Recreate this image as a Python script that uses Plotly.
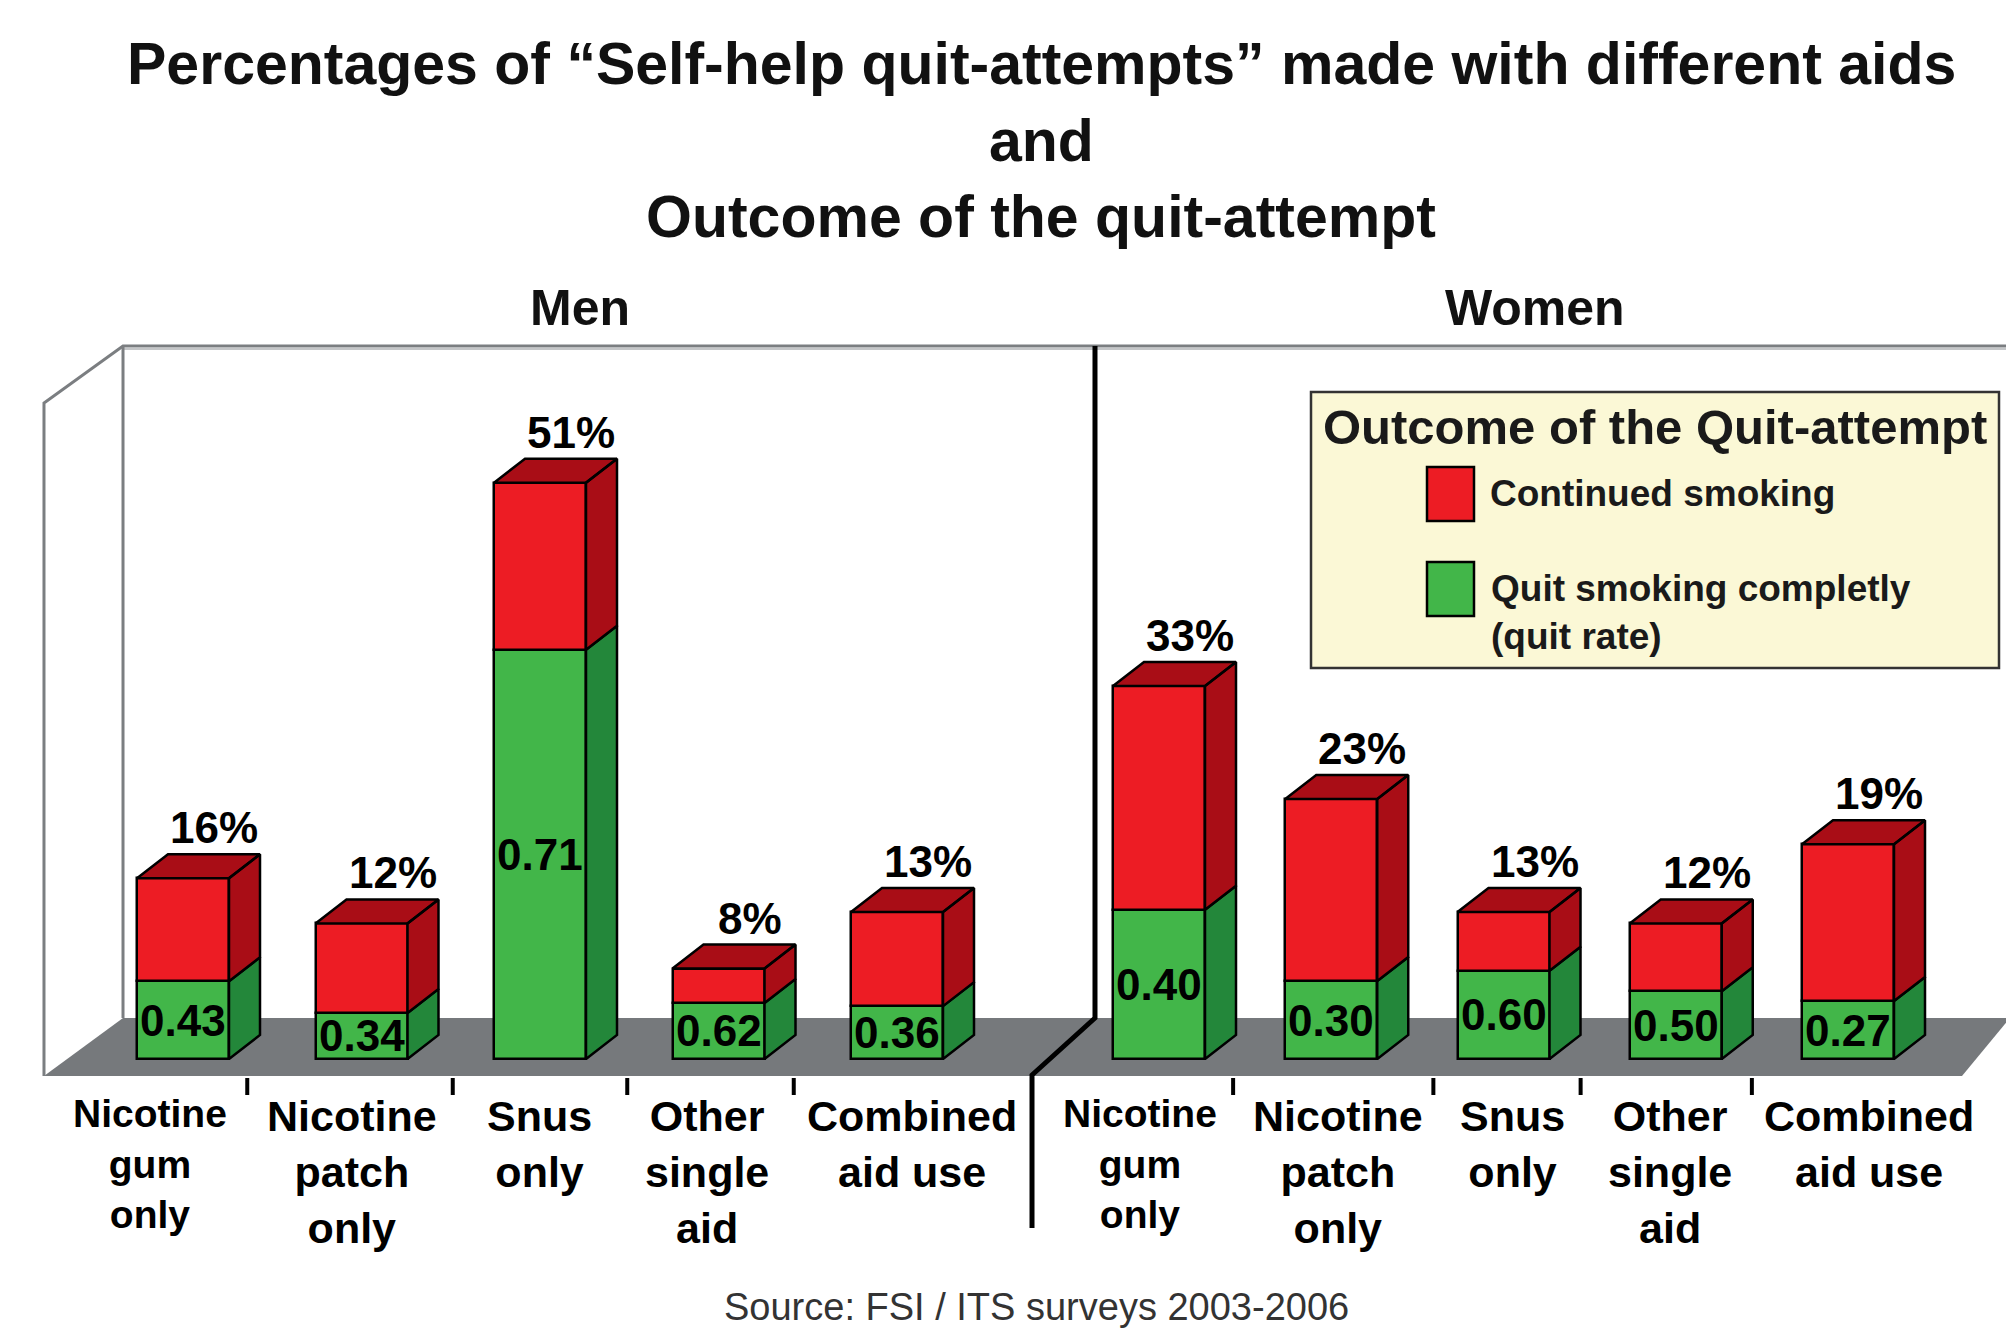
import plotly.graph_objects as go

# ---------------- data ----------------
categories = ["Nicotine<br>gum<br>only", "Nicotine<br>patch<br>only", "Snus<br>only",
              "Other<br>single<br>aid", "Combined<br>aid use"]
men_total = [16, 12, 51, 8, 13]            # % of self-help quit attempts
men_quit_rate = [0.43, 0.34, 0.71, 0.62, 0.36]
women_total = [33, 23, 13, 12, 19]
women_quit_rate = [0.40, 0.30, 0.60, 0.50, 0.27]
panel_titles = ["Men", "Women"]
legend_title = "Outcome of the Quit-attempt"
legend_items = ["Continued smoking", "Quit smoking completly<br>(quit rate)"]

# ---------------- styling / geometry ----------------
W, H = 2006, 1330
BASE_PY = 1059          # pixel row of the 0 % baseline
PX_PER_PCT = 11.3
MEN_C0, MEN_STEP = 183, 178.5
WOM_C0, WOM_STEP = 1159, 172.25
DIV_PX = 1095
BAR_W_PX = 92
DEPTH_DX, DEPTH_DY = 31, 24
MEN_LABEL_SHIFT = [-33, -10, -1, -12, 15]     # pixel nudges of category labels
WOM_LABEL_SHIFT = [-19, 7, 9, -6, 21]
MEN_TICK_SHIFT = [-25, 2, -2, -14]            # pixel nudges of divider ticks
WOM_TICK_SHIFT = [-12, 16, -9, -10]

RED, RED_D = "#ED1C24", "#A90D16"
GREEN, GREEN_D = "#42B649", "#23873A"
FLOOR = "#76797C"
WALL = "#7B7E81"
FONT = "Liberation Sans, Arial, sans-serif"
OUT = 2.5


def px(x):
    return x / W


def py(y):
    return 1 - y / H


fig = go.Figure()
annotations = []
shapes = []


def add_panel(xref, axis_suffix, totals, rates, step, label_shift, tick_shift):
    w = BAR_W_PX / step
    dx = DEPTH_DX / step
    dy = DEPTH_DY / PX_PER_PCT
    xs = list(range(len(totals)))
    green = [t * r for t, r in zip(totals, rates)]
    red = [t - g for t, g in zip(totals, green)]
    fig.add_trace(go.Bar(x=xs, y=green, width=w, base=[0] * len(xs),
                         marker=dict(color=GREEN, line=dict(color="black", width=OUT)),
                         xaxis=xref, yaxis="y", showlegend=False, hoverinfo="skip"))
    fig.add_trace(go.Bar(x=xs, y=red, width=w, base=green,
                         marker=dict(color=RED, line=dict(color="black", width=OUT)),
                         xaxis=xref, yaxis="y", showlegend=False, hoverinfo="skip"))
    gx, gy, rx, ry = [], [], [], []
    for x, g, t in zip(xs, green, totals):
        r = x + w / 2
        l = x - w / 2
        gx += [r, r + dx, r + dx, r, r, None]
        gy += [0, dy, g + dy, g, 0, None]
        rx += [r, r + dx, r + dx, r, r, None]
        ry += [g, g + dy, t + dy, t, g, None]
        rx += [l, r, r + dx, l + dx, l, None]
        ry += [t, t, t + dy, t + dy, t, None]
    fig.add_trace(go.Scatter(x=gx, y=gy, mode="lines", fill="toself", fillcolor=GREEN_D,
                             line=dict(color="black", width=OUT), xaxis=xref, yaxis="y",
                             showlegend=False, hoverinfo="skip"))
    fig.add_trace(go.Scatter(x=rx, y=ry, mode="lines", fill="toself", fillcolor=RED_D,
                             line=dict(color="black", width=OUT), xaxis=xref, yaxis="y",
                             showlegend=False, hoverinfo="skip"))
    for x, g, t, rate in zip(xs, green, totals, rates):
        annotations.append(dict(x=x, y=g / 2, xref="x" + axis_suffix, yref="y",
                                text=f"<b>{rate:.2f}</b>", showarrow=False,
                                xanchor="center", yanchor="middle",
                                font=dict(family=FONT, size=44, color="black")))
        annotations.append(dict(x=x + dx, y=t + dy, xref="x" + axis_suffix, yref="y",
                                text=f"<b>{t}%</b>", showarrow=False,
                                xanchor="center", yanchor="bottom", yshift=0,
                                font=dict(family=FONT, size=44, color="black")))
    for i, c in enumerate(categories):
        annotations.append(dict(x=i, y=py(1090), xref="x" + axis_suffix, yref="paper",
                                text=f"<b>{c}</b>", showarrow=False,
                                xanchor="center", yanchor="top", xshift=label_shift[i],
                                font=dict(family=FONT, size=39 if i == 0 else 43, color="black")))
    for i in range(len(categories) - 1):
        xt = i + 0.5 + tick_shift[i] / step
        shapes.append(dict(type="line", xref="x" + axis_suffix, yref="paper",
                           x0=xt, x1=xt, y0=py(1078), y1=py(1095),
                           line=dict(color="black", width=4)))


def path(pts, close=False):
    s = "M " + " L ".join(f"{px(a):.5f},{py(b):.5f}" for a, b in pts)
    return s + (" Z" if close else "")


# frame: floor, walls, divider
shapes.append(dict(type="path", xref="paper", yref="paper", layer="below",
                   path=path([(44, 1076), (123, 1018), (2010, 1018), (1962, 1076)], True),
                   fillcolor=FLOOR, line=dict(width=0)))
shapes.append(dict(type="path", xref="paper", yref="paper", layer="below",
                   path=path([(123, 349), (2010, 349)]),
                   line=dict(color="#C4C6C8", width=2)))
shapes.append(dict(type="path", xref="paper", yref="paper", layer="below",
                   path=path([(44, 1076), (44, 403), (123, 346), (2010, 346)]),
                   line=dict(color=WALL, width=3)))
shapes.append(dict(type="path", xref="paper", yref="paper", layer="below",
                   path=path([(123, 346), (123, 1018)]),
                   line=dict(color=WALL, width=3)))
shapes.append(dict(type="path", xref="paper", yref="paper", layer="above",
                   path=path([(DIV_PX, 346), (DIV_PX, 1018), (1032, 1075), (1032, 1228)]),
                   line=dict(color="black", width=5)))

add_panel("x", "", men_total, men_quit_rate, MEN_STEP, MEN_LABEL_SHIFT, MEN_TICK_SHIFT)
add_panel("x2", "2", women_total, women_quit_rate, WOM_STEP, WOM_LABEL_SHIFT, WOM_TICK_SHIFT)

# legend box
shapes.append(dict(type="rect", xref="paper", yref="paper", x0=px(1311), x1=px(1999),
                   y0=py(668), y1=py(392), fillcolor="#FBF8D6", line=dict(color="#333333", width=2.5)))
shapes.append(dict(type="rect", xref="paper", yref="paper", x0=px(1427), x1=px(1474),
                   y0=py(521), y1=py(467), fillcolor=RED, line=dict(color="black", width=2.5)))
shapes.append(dict(type="rect", xref="paper", yref="paper", x0=px(1427), x1=px(1474),
                   y0=py(616), y1=py(562), fillcolor=GREEN, line=dict(color="black", width=2.5)))
annotations.append(dict(x=px(1655), y=py(427), xref="paper", yref="paper", showarrow=False,
                        xanchor="center", yanchor="middle", text=f"<b>{legend_title}</b>",
                        font=dict(family=FONT, size=49, color="#1a1a1a")))
annotations.append(dict(x=px(1488), y=py(493), xref="paper", yref="paper", showarrow=False,
                        xanchor="left", yanchor="middle", text=f"<b>{legend_items[0]}</b>",
                        font=dict(family=FONT, size=37, color="#1a1a1a")))
annotations.append(dict(x=px(1489), y=py(612), xref="paper", yref="paper", showarrow=False,
                        xanchor="left", yanchor="middle", align="left",
                        text=f"<b>{legend_items[1]}</b>",
                        font=dict(family=FONT, size=37, color="#1a1a1a")))

# titles
title_lines = ["Percentages of “Self-help quit-attempts” made with different aids", "and",
               "Outcome of the quit-attempt"]
for line, yy in zip(title_lines, [64, 141, 217]):
    annotations.append(dict(x=px(1041), y=py(yy), xref="paper", yref="paper", showarrow=False,
                            xanchor="center", yanchor="middle", text=f"<b>{line}</b>",
                            font=dict(family=FONT, size=59, color="#111111")))
for t, xx in zip(panel_titles, [580, 1535]):
    annotations.append(dict(x=px(xx), y=py(308), xref="paper", yref="paper", showarrow=False,
                            xanchor="center", yanchor="middle", text=f"<b>{t}</b>",
                            font=dict(family=FONT, size=50, color="#111111")))
annotations.append(dict(x=px(1036), y=py(1307), xref="paper", yref="paper", showarrow=False,
                        xanchor="center", yanchor="middle",
                        text="Source: FSI / ITS surveys 2003-2006",
                        font=dict(family=FONT, size=38, color="#333333")))

fig.update_layout(
    width=W, height=H, autosize=False,
    margin=dict(l=0, r=0, t=0, b=0),
    paper_bgcolor="white", plot_bgcolor="rgba(0,0,0,0)",
    barmode="overlay", bargap=0,
    xaxis=dict(domain=[0, px(DIV_PX)], range=[(0 - MEN_C0) / MEN_STEP, (DIV_PX - MEN_C0) / MEN_STEP],
               visible=False, fixedrange=True),
    xaxis2=dict(domain=[px(DIV_PX), 1], range=[(DIV_PX - WOM_C0) / WOM_STEP, (W - WOM_C0) / WOM_STEP],
                visible=False, fixedrange=True, anchor="y"),
    yaxis=dict(domain=[0, 1], range=[-(H - BASE_PY) / PX_PER_PCT, BASE_PY / PX_PER_PCT],
               visible=False, fixedrange=True),
    shapes=shapes, annotations=annotations,
)

fig.write_html("out.html", config={"displayModeBar": False},
               post_script="document.body.style.margin='0';")
